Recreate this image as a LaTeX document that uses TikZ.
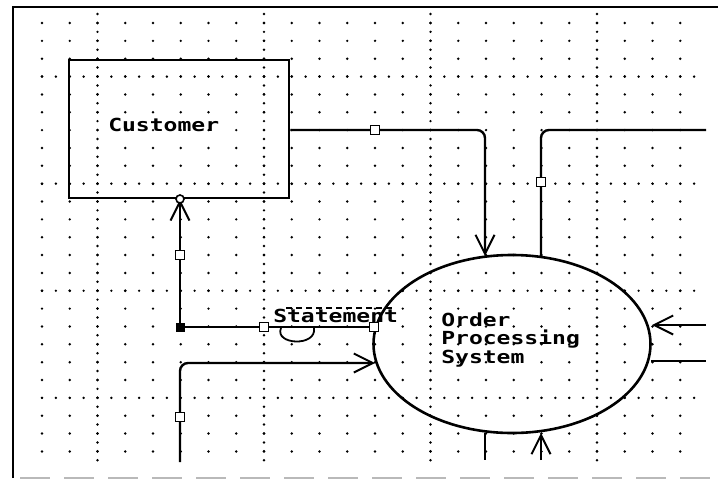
\documentclass[tikz,border=0pt]{standalone}
\usepackage{fontspec}
\newfontfamily\pixfont{DejaVu Sans Mono}
\usetikzlibrary{arrows.meta,shapes.geometric}
\begin{document}
\begin{tikzpicture}[x=1pt,y=-1pt,
  griddot/.style={fill=black},
  flow/.style={line width=2.4pt, rounded corners=8pt},
  frameline/.style={line width=2.6pt},
  marker/.style={draw, fill=white, line width=1.8pt, minimum size=9pt, inner sep=0pt},
  junction/.style={draw, fill=black, line width=1pt, minimum size=8pt, inner sep=0pt},
  lbl/.style={font=\pixfont\bfseries\fontsize{18pt}{18pt}\selectfont, xscale=1.28, inner sep=0pt,
              text height=13pt, text depth=3pt, anchor=base west},
  >={Straight Barb[length=19pt,width=19pt,line width=2pt]}]
\useasboundingbox (0,0) rectangle (718,480);
\fill[white] (0,0) rectangle (718,480);
% grid dots
\foreach \i in {0,...,23}
  \foreach \j in {0,...,24}
    \fill[griddot] (42+27.75*\i, 23+17.85*\j) circle (1.35pt);
\foreach \c in {2,8,14,20}
  \foreach \k in {0,...,50}
    \fill[griddot] (42+27.75*\c, 14+8.925*\k) circle (1.35pt);
\foreach \r in {3,9,15,21}
  \foreach \k in {0,...,47}
    \fill[griddot] (42+13.875*\k, 23+17.85*\r) circle (1.35pt);
% frame
\draw[frameline] (13,478) -- (13,7) -- (718,7);
\draw[line width=2.4pt, gray!55, dash pattern=on 30pt off 14pt] (20,478) -- (718,478);
% shapes
\node[draw, line width=2.6pt, minimum width=220pt, minimum height=138pt, inner sep=0pt] (cust) at (179,129) {};
\node[lbl] (custtext) at (108,131) {Customer};
\node[ellipse, draw, line width=2.6pt, minimum width=277pt, minimum height=178pt, inner sep=0pt] (ops) at (512,344) {};
\node[lbl] (optext1) at (441,326) {Order};
\node[lbl] (optext2) at (441,344) {Processing};
\node[lbl] (optext3) at (441,363) {System};
% free ends
\coordinate (e1) at (706,130);
\coordinate (e2) at (706,325);
\coordinate (e3) at (706,361);
\coordinate (e4) at (485,460);
\coordinate (e5) at (541,460);
\coordinate (e6) at (180,462);
\node[junction] (j1) at (180,327) {};
% connectors
\draw[flow,->] (cust.east |- 0,130) -- (485,130) -- (485,256);
\draw[flow] (541,256) -- (541,130) -- (e1);
\draw[flow,->] (j1) -- (cust.south -| j1);
\draw[flow] (j1) -- (376,327);
\draw[flow,->] (e6) -- (180,363) -- (375,363);
\draw[flow,->] (e2) -- (652,325);
\draw[flow] (651,361) -- (e3);
\draw[flow] (485,433) -- (e4);
\draw[flow,->] (e5) -- (541,433);
\draw[line width=1.6pt, fill=white] (180,199) circle (4pt);
% markers
\node[marker] (m1) at (375,130) {};
\node[marker] (m2) at (541,182) {};
\node[marker] (m3) at (180,255) {};
\node[marker] (m4) at (264,327) {};
\node[marker] (m5) at (374,327) {};
\node[marker] (m6) at (180,417) {};
% statement label
\draw[line width=1.8pt] (281,328) .. controls (274,345) and (317,347) .. (314,328);
\node[lbl] (stmt) at (273,322) {Statement};
\draw[line width=1.8pt, dash pattern=on 6pt off 4pt] (286,308) -- (392,308);
\end{tikzpicture}
\end{document}
